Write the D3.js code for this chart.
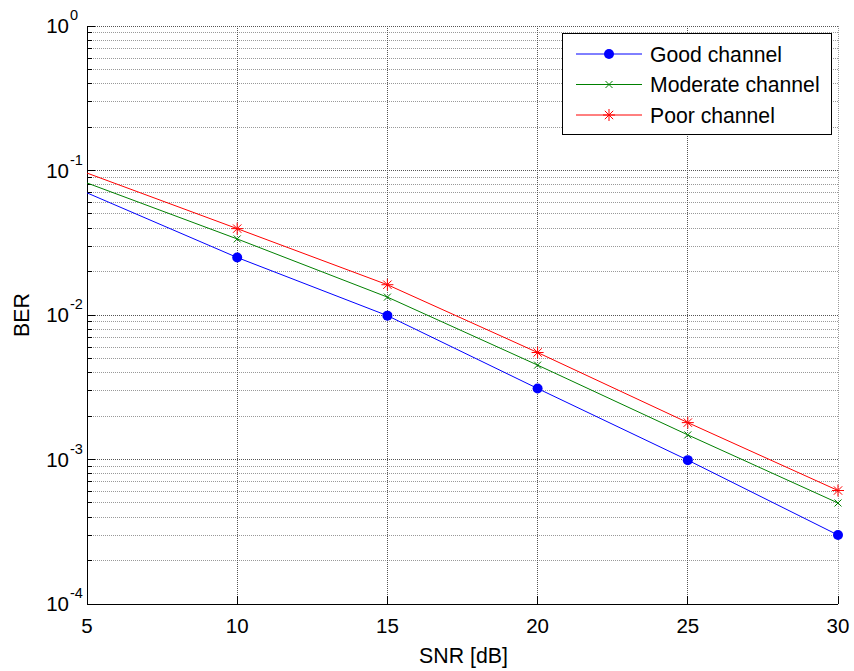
<!DOCTYPE html>
<html><head><meta charset="utf-8">
<script src="https://cdn.jsdelivr.net/npm/d3@7"></script>
<style>body{margin:0;background:#fff}svg{display:block}text{font-family:"Liberation Sans",Arial,sans-serif;fill:#000}</style>
</head><body><svg id="c" width="854" height="671"></svg>
<script>
const snr = [5, 10, 15, 20, 25, 30];
const goodBER = [0.07, 0.025, 0.0099, 0.0031, 0.00099, 0.0003];
const moderateBER = [0.082, 0.0336, 0.0133, 0.0045, 0.00148, 0.0005];
const poorBER = [0.096, 0.0396, 0.0162, 0.0055, 0.0018, 0.00061];
const seriesNames = ["Good channel", "Moderate channel", "Poor channel"];
const xTicks = [5, 10, 15, 20, 25, 30];
const yExps = [0, -1, -2, -3, -4];

const svg = d3.select("#c");
const L = 87, R = 838, T = 26, B = 604;
const x = d3.scaleLinear().domain([5, 30]).range([L, R]);
const y = d3.scaleLog().domain([1e-4, 1]).range([B, T]);

const g = svg.append("g");
// minor grid
const minor = [];
for (let e = -4; e < 0; e++) for (let m = 2; m <= 9; m++) minor.push(m * Math.pow(10, e));
g.selectAll(".mg").data(minor).join("line")
  .attr("x1", L).attr("x2", R).attr("y1", d => y(d)).attr("y2", d => y(d))
  .attr("stroke", "#999").attr("stroke-dasharray", "1,1").attr("stroke-width", 1).attr("shape-rendering", "crispEdges");
// major grid
g.selectAll(".Mg").data(yExps.map(e => Math.pow(10, e))).join("line")
  .attr("x1", L).attr("x2", R).attr("y1", d => y(d)).attr("y2", d => y(d))
  .attr("stroke", "#555").attr("stroke-dasharray", "1,1").attr("stroke-width", 1).attr("shape-rendering", "crispEdges");
g.selectAll(".vg").data(xTicks.slice(1)).join("line")
  .attr("x1", d => x(d)).attr("x2", d => x(d)).attr("y1", T).attr("y2", B)
  .attr("stroke", d => d === 30 ? "#999" : "#555").attr("stroke-dasharray", "1,1").attr("stroke-width", 1).attr("shape-rendering", "crispEdges");

// y ticks (left, inward)
g.selectAll(".yt").data(minor.concat(yExps.map(e => Math.pow(10, e)))).join("line")
  .attr("x1", L).attr("x2", d => L + (Number.isInteger(Math.log10(d)) ? 8 : 5)).attr("y1", d => y(d)).attr("y2", d => y(d))
  .attr("stroke", "#000").attr("shape-rendering", "crispEdges");
// x ticks (bottom, inward)
g.selectAll(".xt").data(xTicks).join("line")
  .attr("x1", d => x(d)).attr("x2", d => x(d)).attr("y1", B).attr("y2", B - 8)
  .attr("stroke", "#000").attr("shape-rendering", "crispEdges");
// axes
g.append("line").attr("x1", L).attr("x2", L).attr("y1", T).attr("y2", B).attr("stroke", "#000").attr("shape-rendering", "crispEdges");
g.append("line").attr("x1", L).attr("x2", R).attr("y1", B).attr("y2", B).attr("stroke", "#000").attr("shape-rendering", "crispEdges");

// tick labels
g.selectAll(".xl").data(xTicks).join("text")
  .attr("x", d => x(d)).attr("y", 633).attr("text-anchor", "middle").attr("font-size", 20.5).text(d => d);
const yl = g.selectAll(".yl").data(yExps).join("text")
  .attr("x", 69).attr("y", d => y(Math.pow(10, d)) + 7).attr("text-anchor", "end").attr("font-size", 20.5);
yl.append("tspan").text("10");
g.selectAll(".ye").data(yExps).join("text")
  .attr("x", 70).attr("y", d => y(Math.pow(10, d)) - 6).attr("font-size", 14.5).text(d => d);

g.append("text").attr("x", (L + R) / 2 + 1).attr("y", 663).attr("text-anchor", "middle").attr("font-size", 21.3).text("SNR [dB]");
g.append("text").attr("transform", `translate(29,${(T + B) / 2}) rotate(-90)`).attr("text-anchor", "middle").attr("font-size", 21.3).text("BER");

// series
const series = [
  {vals: goodBER, color: "#0000ff", marker: "dot"},
  {vals: moderateBER, color: "#008000", marker: "x"},
  {vals: poorBER, color: "#ff0000", marker: "star"}
];
const line = d3.line().x(d => x(d[0])).y(d => y(d[1]));
function drawMarker(sel, type, color) {
  if (type === "dot") {
    sel.append("circle").attr("r", 5).attr("fill", color);
  } else if (type === "x") {
    const s = 3.5;
    sel.append("path").attr("d", `M${-s},${-s}L${s},${s}M${-s},${s}L${s},${-s}`).attr("stroke", color).attr("fill", "none");
  } else {
    const s = 6, d = 4.2;
    sel.append("path").attr("d", `M0,${-s}L0,${s}M${-s},0L${s},0M${-d},${-d}L${d},${d}M${-d},${d}L${d},${-d}`).attr("stroke", color).attr("fill", "none");
  }
}
series.forEach(s => {
  const pts = snr.map((v, i) => [v, s.vals[i]]);
  g.append("path").attr("d", line(pts)).attr("fill", "none").attr("stroke", s.color).attr("stroke-width", 1);
  pts.filter(p => p[0] > 5).forEach(p => {
    const m = g.append("g").attr("transform", `translate(${x(p[0])},${y(p[1])})`);
    drawMarker(m, s.marker, s.color);
  });
});

// legend
const lg = svg.append("g");
lg.append("rect").attr("x", 562.5).attr("y", 33.5).attr("width", 269).attr("height", 101).attr("fill", "#fff").attr("stroke", "#000");
series.forEach((s, i) => {
  const yy = 54 + i * 30.5;
  lg.append("line").attr("x1", 576).attr("x2", 642).attr("y1", yy).attr("y2", yy).attr("stroke", s.color);
  const m = lg.append("g").attr("transform", `translate(609,${yy})`);
  drawMarker(m, s.marker, s.color);
  lg.append("text").attr("x", 650).attr("y", yy + 7.5).attr("font-size", 21.2).text(seriesNames[i]);
});
</script></body></html>
